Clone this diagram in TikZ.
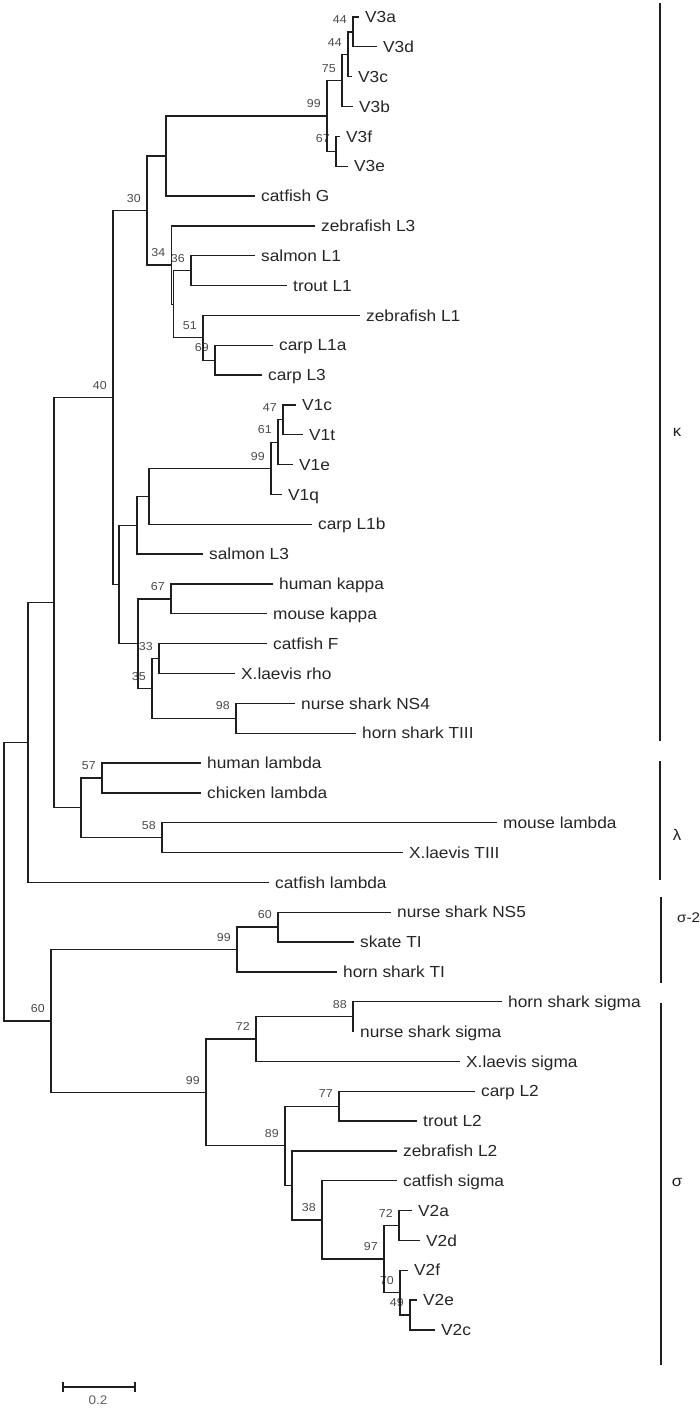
\documentclass[tikz,border=0pt]{standalone}
\usepackage{fontspec}
\setmainfont{Liberation Sans}[FakeStretch=1.08]
\usetikzlibrary{calc}
\tikzset{
  branch/.style={line width=1.3pt, black!88},
  leaflabel/.style={anchor=base west, inner sep=0pt, xshift=6pt, yshift=-5.7pt,
    font=\fontsize{16}{18}\selectfont, text=black!85},
  boot/.style={anchor=south east, inner sep=0pt, xshift=-6pt, yshift=8pt,
    font=\fontsize{11.5}{12}\selectfont, text=black!70},
  bracket/.style={line width=1.5pt, black!88},
  cladelabel/.style={inner sep=0pt, font=\fontsize{15.5}{18}\selectfont, text=black!88},
  scalebar/.style={line width=1.3pt, black!88},
}
\newcommand\leafnode[4]{%
  \coordinate (#1) at ({#2},{17+29.84*#3});
  \node[leaflabel] (#1L) at (#1) {#4};
}
\newcommand\inode[5]{%
  \path let \p1=($(#3)!.5!(#4)$), \p2=(#2,0) in coordinate (#1) at (\x2,\y1);
  \draw[branch] (#3) -| (#1) |- (#4);
  \if\relax\detokenize{#5}\relax\else\node[boot] (#1B) at (#1) {#5};\fi
}
\begin{document}
\begin{tikzpicture}[x=1pt,y=-1pt]
\fill[white] (0,0) rectangle (700,1409);
\useasboundingbox (0,0) rectangle (700,1409);
% leaves
\leafnode{V3a}{359}{0}{V3a}
\leafnode{V3d}{377}{1}{V3d}
\leafnode{V3c}{352}{2}{V3c}
\leafnode{V3b}{353}{3}{V3b}
\leafnode{V3f}{340}{4}{V3f}
\leafnode{V3e}{348}{5}{V3e}
\leafnode{catG}{255}{6}{catfish G}
\leafnode{zfL3}{315}{7}{zebrafish L3}
\leafnode{saL1}{255}{8}{salmon L1}
\leafnode{trL1}{287}{9}{trout L1}
\leafnode{zfL1}{360}{10}{zebrafish L1}
\leafnode{cpL1a}{273}{11}{carp L1a}
\leafnode{cpL3}{262}{12}{carp L3}
\leafnode{V1c}{296}{13}{V1c}
\leafnode{V1t}{303}{14}{V1t}
\leafnode{V1e}{293}{15}{V1e}
\leafnode{V1q}{282}{16}{V1q}
\leafnode{cpL1b}{312}{17}{carp L1b}
\leafnode{saL3}{203}{18}{salmon L3}
\leafnode{huK}{273}{19}{human kappa}
\leafnode{moK}{267}{20}{mouse kappa}
\leafnode{catF}{267}{21}{catfish F}
\leafnode{xlRho}{235}{22}{X.laevis rho}
\leafnode{nsNSfour}{295}{23}{nurse shark NS4}
\leafnode{hsTthree}{356}{24}{horn shark TIII}
\leafnode{huL}{201}{25}{human lambda}
\leafnode{chL}{201}{26}{chicken lambda}
\leafnode{moL}{497}{27}{mouse lambda}
\leafnode{xlTthree}{403}{28}{X.laevis TIII}
\leafnode{catL}{269}{29}{catfish lambda}
\leafnode{nsNSfive}{391}{30}{nurse shark NS5}
\leafnode{skTone}{354}{31}{skate TI}
\leafnode{hsTone}{337}{32}{horn shark TI}
\leafnode{hsS}{502}{33}{horn shark sigma}
\leafnode{nsS}{354}{34}{nurse shark sigma}
\leafnode{xlS}{460}{35}{X.laevis sigma}
\leafnode{cpL2}{475}{36}{carp L2}
\leafnode{trL2}{417}{37}{trout L2}
\leafnode{zfL2}{397}{38}{zebrafish L2}
\leafnode{catS}{397}{39}{catfish sigma}
\leafnode{V2a}{412}{40}{V2a}
\leafnode{V2d}{420}{41}{V2d}
\leafnode{V2f}{408}{42}{V2f}
\leafnode{V2e}{417}{43}{V2e}
\leafnode{V2c}{435}{44}{V2c}
% internal nodes
\inode{a1}{353}{V3a}{V3d}{44}
\inode{a2}{348}{a1}{V3c}{44}
\inode{a3}{342}{a2}{V3b}{75}
\inode{a4}{336}{V3f}{V3e}{67}
\inode{a5}{327}{a3}{a4}{99}
\inode{a6}{166}{a5}{catG}{}
\inode{b1}{191}{saL1}{trL1}{36}
\inode{b2}{215}{cpL1a}{cpL3}{69}
\inode{b3}{203}{zfL1}{b2}{51}
\inode{b4}{173.5}{b1}{b3}{}
\inode{b5}{171.5}{zfL3}{b4}{34}
\inode{b6}{147}{a6}{b5}{30}
\inode{c1}{283}{V1c}{V1t}{47}
\inode{c2}{278}{c1}{V1e}{61}
\inode{c3}{271}{c2}{V1q}{99}
\inode{c4}{149}{c3}{cpL1b}{}
\inode{c5}{137}{c4}{saL3}{}
\inode{c6}{171}{huK}{moK}{67}
\inode{c7}{159}{catF}{xlRho}{33}
\inode{c8}{236}{nsNSfour}{hsTthree}{98}
\inode{c9}{152}{c7}{c8}{35}
\inode{c10}{138}{c6}{c9}{}
\inode{c11}{119}{c5}{c10}{}
\inode{c12}{113}{b6}{c11}{40}
\inode{d1}{102}{huL}{chL}{57}
\inode{d2}{162}{moL}{xlTthree}{58}
\inode{d3}{81}{d1}{d2}{}
\inode{e1}{54}{c12}{d3}{}
\inode{e2}{28}{e1}{catL}{}
\inode{f1}{278}{nsNSfive}{skTone}{60}
\inode{f2}{237}{f1}{hsTone}{99}
\inode{g1}{353}{hsS}{nsS}{88}
\inode{g2}{256}{g1}{xlS}{72}
\inode{h1}{339}{cpL2}{trL2}{77}
\inode{h2}{399}{V2a}{V2d}{72}
\inode{h3}{410}{V2e}{V2c}{49}
\inode{h4}{400}{V2f}{h3}{70}
\inode{h5}{384}{h2}{h4}{97}
\inode{h6}{322}{catS}{h5}{38}
\inode{h7}{292}{zfL2}{h6}{}
\inode{h8}{285}{h1}{h7}{89}
\inode{g3}{206}{g2}{h8}{99}
\inode{g4}{51}{f2}{g3}{60}
\inode{root}{4}{e2}{g4}{}
% clade brackets
\coordinate (kT) at (660,3);    \coordinate (kB) at (660,741);
\coordinate (lT) at (660,761);  \coordinate (lB) at (660,880);
\coordinate (s2T) at (661,897); \coordinate (s2B) at (661,983);
\coordinate (sT) at (661,1003); \coordinate (sB) at (661,1365);
\draw[bracket] (kT) -- (kB);
\draw[bracket] (lT) -- (lB);
\draw[bracket] (s2T) -- (s2B);
\draw[bracket] (sT) -- (sB);
\node[cladelabel] (kLab) at (677,432) {κ};
\node[cladelabel] (lLab) at (677,835) {λ};
\node[cladelabel, anchor=west, font=\fontsize{14}{16}\selectfont] (s2Lab) at (677,918) {σ-2};
\node[cladelabel] (sLab) at (677,1182) {σ};
% scale bar
\coordinate (sbL) at (63,1387); \coordinate (sbR) at (135,1387);
\draw[scalebar] (sbL) -- (sbR);
\draw[scalebar] ($(sbL)+(0,-5)$) -- ($(sbL)+(0,5)$);
\draw[scalebar] ($(sbR)+(0,-5)$) -- ($(sbR)+(0,5)$);
\node[inner sep=0pt, font=\fontsize{12.5}{14}\selectfont, text=black!62] (sbLab) at (98,1400) {0.2};
\end{tikzpicture}
\end{document}
